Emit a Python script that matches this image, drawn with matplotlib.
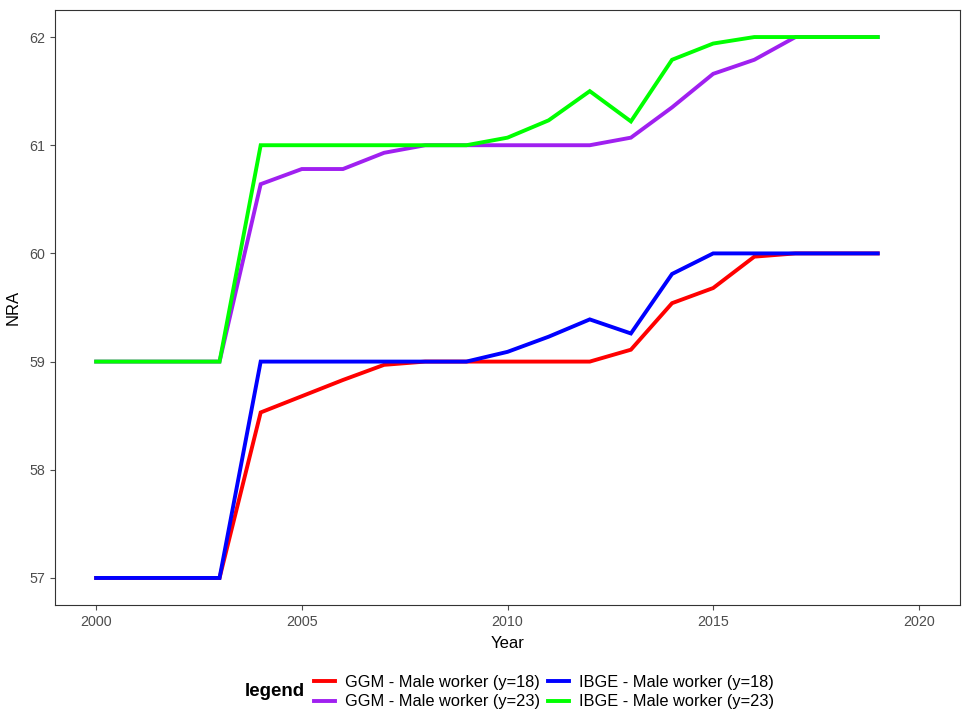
import matplotlib.pyplot as plt

plt.rcParams['font.family'] = ['Liberation Sans', 'DejaVu Sans']

years = list(range(2000, 2020))

ggm_18 = [57, 57, 57, 57, 58.53, 58.68, 58.83, 58.97, 59.0, 59.0,
          59.0, 59.0, 59.0, 59.11, 59.54, 59.68, 59.97, 60.0, 60.0, 60.0]
ggm_23 = [59, 59, 59, 59, 60.64, 60.78, 60.78, 60.93, 61.0, 61.0,
          61.0, 61.0, 61.0, 61.07, 61.35, 61.66, 61.79, 62.0, 62.0, 62.0]
ibge_18 = [57, 57, 57, 57, 59.0, 59.0, 59.0, 59.0, 59.0, 59.0,
           59.09, 59.23, 59.39, 59.26, 59.81, 60.0, 60.0, 60.0, 60.0, 60.0]
ibge_23 = [59, 59, 59, 59, 61.0, 61.0, 61.0, 61.0, 61.0, 61.0,
           61.07, 61.23, 61.5, 61.22, 61.79, 61.94, 62.0, 62.0, 62.0, 62.0]

labels = ["GGM - Male worker (y=18)", "GGM - Male worker (y=23)",
          "IBGE - Male worker (y=18)", "IBGE - Male worker (y=23)"]
colors = ["#FF0000", "#A020F0", "#0000FF", "#00FF00"]

fig = plt.figure(figsize=(9.7, 7.2), dpi=100)
ax = fig.add_axes([55 / 970, 1 - 605 / 720, 905 / 970, 595 / 720])

for vals, lab, c in zip([ggm_18, ggm_23, ibge_18, ibge_23], labels, colors):
    ax.plot(years, vals, color=c, lw=2.8, label=lab, solid_joinstyle='miter')

ax.set_xlim(1999, 2021)
ax.set_ylim(56.75, 62.25)
ax.set_xticks([2000, 2005, 2010, 2015, 2020])
ax.set_yticks([57, 58, 59, 60, 61, 62])
ax.tick_params(colors='#4D4D4D', labelsize=10.3, length=3.5, width=0.8)
for lbl in ax.get_xticklabels() + ax.get_yticklabels():
    lbl.set_color('#4D4D4D')
for s in ax.spines.values():
    s.set_color('#333333')
    s.set_linewidth(0.8)
ax.set_xlabel("Year", fontsize=12, labelpad=5)
ax.set_ylabel("NRA", fontsize=12, labelpad=6)

handles, labs = ax.get_legend_handles_labels()
leg = fig.legend(handles, labs, loc='center', bbox_to_anchor=(544 / 970, 1 - 692 / 720),
                 ncol=2, frameon=False, fontsize=11.8, handlelength=1.3,
                 columnspacing=0.5, handletextpad=0.6, labelspacing=0.3)
fig.text(305 / 970, 1 - 692 / 720, "legend", fontsize=13.5, fontweight='bold',
         ha='right', va='center')

fig.savefig("out.png", dpi=100)
